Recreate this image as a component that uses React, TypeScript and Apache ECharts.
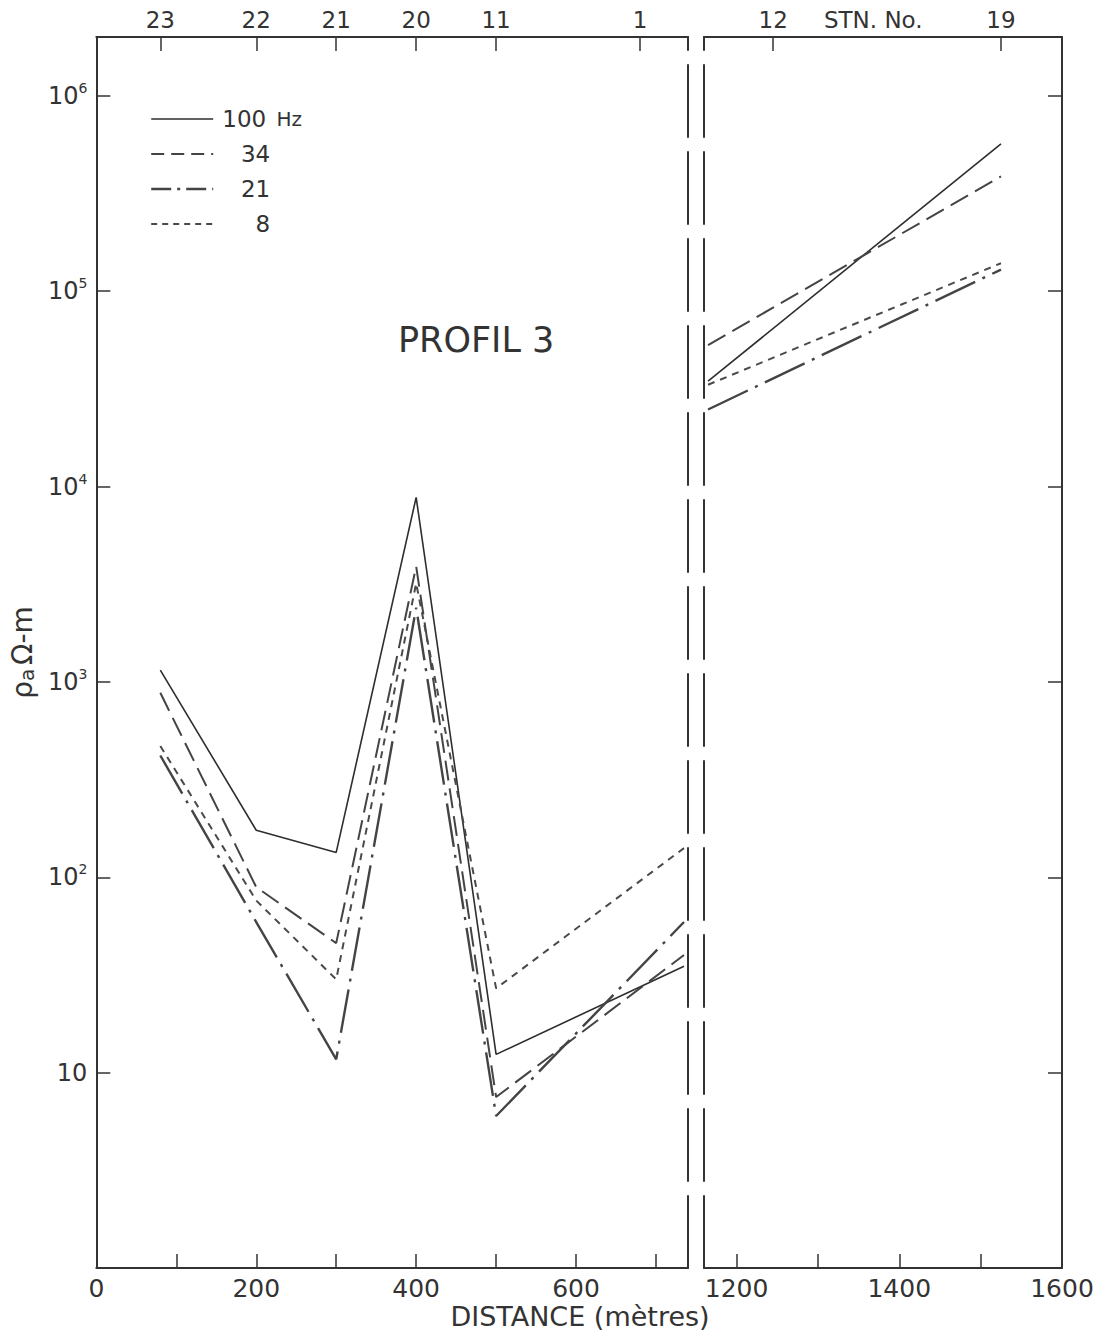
import React, { useEffect, useRef } from "react";
import * as echarts from "echarts";

// ---- data ----
const frequencies = ["100 Hz", "34", "21", "8"];

// left panel (0 – 740 m)
const leftDistances = [80, 200, 300, 400, 500, 735];
const rho100Left = [1150, 174, 134, 8800, 12.4, 35];
const rho34Left = [880, 89, 46, 3900, 7.5, 40];
const rho21Left = [420, 59, 11.7, 2400, 6.0, 59];
const rho8Left = [470, 76, 30, 3200, 27, 141];

// right panel (1160 – 1600 m)
const rightDistances = [1165, 1525];
const rho100Right = [34600, 568000];
const rho34Right = [53000, 387000];
const rho21Right = [24800, 129000];
const rho8Right = [33200, 139000];

// axis ticks / labels
const leftTicks = [100, 200, 300, 400, 500, 600, 700];
const leftLabels = [0, 200, 400, 600];
const rightTicks = [1200, 1300, 1400, 1500];
const rightLabels = [1200, 1400, 1600];

// station numbers (top axis)
const stationDistLeft = [80, 200, 300, 400, 500, 680];
const stationNamesLeft = ["23", "22", "21", "20", "11", "1"];
const stationDistRight = [1245, 1525];
const stationNamesRight = ["12", "19"];
const stationTitlePos = 1368;
const stationTitle = "STN. No.";

const FONT = '"DejaVu Sans", "Liberation Sans", sans-serif';
const INK = "#333333";

const styles: Record<string, any> = {
  "100 Hz": { width: 1.6, type: "solid", color: "#2e2e2e" },
  "34": { width: 2, type: [20, 8], color: "#444444" },
  "21": { width: 2.4, type: [44, 8, 3, 8], color: "#444444" },
  "8": { width: 2, type: [7, 6], color: "#4a4a4a" },
};
const legendDash: Record<string, any> = {
  "100 Hz": "solid",
  "34": [13, 7],
  "21": [20, 6, 3, 6],
  "8": [6, 5],
};

export default function App() {
  const ref = useRef<HTMLDivElement>(null);

  useEffect(() => {
    if (!ref.current) return;
    const chart = echarts.init(ref.current, undefined, { renderer: "svg" });

    const leftVals: Record<string, number[]> = {
      "100 Hz": rho100Left,
      "34": rho34Left,
      "21": rho21Left,
      "8": rho8Left,
    };
    const rightVals: Record<string, number[]> = {
      "100 Hz": rho100Right,
      "34": rho34Right,
      "21": rho21Right,
      "8": rho8Right,
    };

    const series: any[] = [];
    frequencies.forEach((f) => {
      series.push({
        name: f,
        type: "line",
        xAxisIndex: 0,
        yAxisIndex: 0,
        symbol: "none",
        lineStyle: styles[f],
        itemStyle: { color: styles[f].color },
        data: leftDistances.map((d, i) => [d, leftVals[f][i]]),
      });
      series.push({
        name: f,
        type: "line",
        xAxisIndex: 1,
        yAxisIndex: 2,
        symbol: "none",
        lineStyle: styles[f],
        itemStyle: { color: styles[f].color },
        data: rightDistances.map((d, i) => [d, rightVals[f][i]]),
      });
    });

    const axisLine = { show: true, onZero: false, lineStyle: { color: INK, width: 2 } };
    const dashedLine = {
      show: true,
      onZero: false,
      lineStyle: { color: INK, width: 2, type: [72, 15] },
    };
    const labelStyle = { color: INK, fontFamily: FONT, fontSize: 25 };

    const yLabelFormatter = (v: number) => {
      const l = Math.log10(v);
      const e = Math.round(l);
      if (Math.abs(l - e) > 1e-6 || e < 1) return "";
      if (e === 1) return "{b|10}";
      return "{b|10}{p|" + e + "}";
    };

    const stationFmt = (names: string[], dists: number[]) => (v: number) => {
      if (Math.abs(v - stationTitlePos) < 0.5) return stationTitle;
      const i = dists.findIndex((d) => Math.abs(d - v) < 0.5);
      return i >= 0 ? names[i] : "";
    };

    const option: any = {
      animation: false,
      backgroundColor: "#ffffff",
      textStyle: { fontFamily: FONT },
      grid: [
        { left: 96, top: 37, width: 592, height: 1231 },
        { left: 704, top: 37, width: 358, height: 1231 },
      ],
      legend: {
        orient: "vertical",
        left: 145,
        top: 102,
        itemWidth: 62,
        itemHeight: 14,
        itemGap: 11,
        selectedMode: false,
        itemStyle: { color: "rgba(0,0,0,0)", borderWidth: 0, opacity: 0 },
        data: frequencies.map((f) => ({
          name: f,
          lineStyle: { type: legendDash[f], color: styles[f].color, width: styles[f].width },
        })),
        formatter: (name: string) =>
          name === "100 Hz" ? "{n|100}{u| Hz}" : "{n|" + name + "}",
        textStyle: {
          color: INK,
          fontFamily: FONT,
          fontSize: 23,
          lineHeight: 24,
          rich: {
            n: { width: 52, align: "right", fontSize: 23, color: INK, fontFamily: FONT },
            u: { fontSize: 20, color: INK, fontFamily: FONT },
          },
        },
      },
      xAxis: [
        {
          gridIndex: 0,
          type: "value",
          position: "bottom",
          min: 0,
          max: 740,
          axisLine,
          axisTick: {
            show: true,
            inside: true,
            length: 14,
            customValues: leftTicks,
            lineStyle: { color: INK, width: 1.5 },
          },
          axisLabel: { ...labelStyle, margin: 8, customValues: leftLabels, formatter: (v: number) => String(v) },
          splitLine: { show: false },
        },
        {
          gridIndex: 1,
          type: "value",
          position: "bottom",
          min: 1160,
          max: 1600,
          axisLine,
          axisTick: {
            show: true,
            inside: true,
            length: 14,
            customValues: rightTicks,
            lineStyle: { color: INK, width: 1.5 },
          },
          axisLabel: { ...labelStyle, margin: 8, customValues: rightLabels, formatter: (v: number) => String(v) },
          splitLine: { show: false },
        },
        {
          gridIndex: 0,
          type: "value",
          position: "top",
          min: 0,
          max: 740,
          axisLine,
          axisTick: {
            show: true,
            inside: true,
            length: 14,
            customValues: stationDistLeft,
            lineStyle: { color: INK, width: 1.5 },
          },
          axisLabel: {
            ...labelStyle,
            fontSize: 23,
            margin: 6,
            customValues: stationDistLeft,
            formatter: stationFmt(stationNamesLeft, stationDistLeft),
          },
          splitLine: { show: false },
        },
        {
          gridIndex: 1,
          type: "value",
          position: "top",
          min: 1160,
          max: 1600,
          axisLine,
          axisTick: {
            show: true,
            inside: true,
            length: 14,
            customValues: stationDistRight,
            lineStyle: { color: INK, width: 1.5 },
          },
          axisLabel: {
            ...labelStyle,
            fontSize: 23,
            margin: 6,
            customValues: [...stationDistRight, stationTitlePos],
            formatter: stationFmt(stationNamesRight, stationDistRight),
          },
          splitLine: { show: false },
        },
      ],
      yAxis: [
        {
          gridIndex: 0,
          type: "log",
          logBase: 10,
          min: 1,
          max: 2e6,
          position: "left",
          axisLine,
          axisTick: { show: true, inside: true, length: 14, lineStyle: { color: INK, width: 1.5 } },
          axisLabel: {
            margin: 9,
            formatter: yLabelFormatter,
            rich: {
              b: { fontSize: 24, color: INK, fontFamily: FONT },
              p: { fontSize: 14, color: INK, fontFamily: FONT, padding: [0, 0, 16, 0] },
            },
          },
          splitLine: { show: false },
          minorTick: { show: false },
          name: "{r|ρ}{s|a} {r|Ω-m}",
          nameLocation: "middle",
          nameRotate: 90,
          nameGap: 33,
          nameTextStyle: {
            rich: {
              r: { fontSize: 28, color: INK, fontFamily: FONT },
              s: { fontSize: 20, color: INK, fontFamily: FONT, padding: [10, 0, 0, 0] },
            },
          },
        },
        {
          gridIndex: 0,
          type: "log",
          logBase: 10,
          min: 1,
          max: 2e6,
          position: "right",
          axisLine: dashedLine,
          axisTick: { show: false },
          axisLabel: { show: false },
          splitLine: { show: false },
        },
        {
          gridIndex: 1,
          type: "log",
          logBase: 10,
          min: 1,
          max: 2e6,
          position: "left",
          axisLine: dashedLine,
          axisTick: { show: false },
          axisLabel: { show: false },
          splitLine: { show: false },
        },
        {
          gridIndex: 1,
          type: "log",
          logBase: 10,
          min: 1,
          max: 2e6,
          position: "right",
          axisLine,
          axisTick: { show: true, inside: true, length: 14, lineStyle: { color: INK, width: 1.5 } },
          axisLabel: { show: false },
          splitLine: { show: false },
        },
      ],
      graphic: [
        {
          type: "text",
          left: 398,
          top: 322,
          style: {
            text: "PROFIL 3",
            fontSize: 35,
            fontFamily: FONT,
            fill: INK,
          },
        },
        {
          type: "text",
          x: 580,
          y: 1316,
          style: {
            text: "DISTANCE (mètres)",
            fontSize: 27,
            fontFamily: FONT,
            fill: INK,
            align: "center",
            verticalAlign: "middle",
          },
        },
      ],
      series,
    };

    chart.setOption(option);
    return () => chart.dispose();
  }, []);

  return (
    <div
      ref={ref}
      style={{ position: "absolute", left: 0, top: 0, width: 1105, height: 1334 }}
    />
  );
}
